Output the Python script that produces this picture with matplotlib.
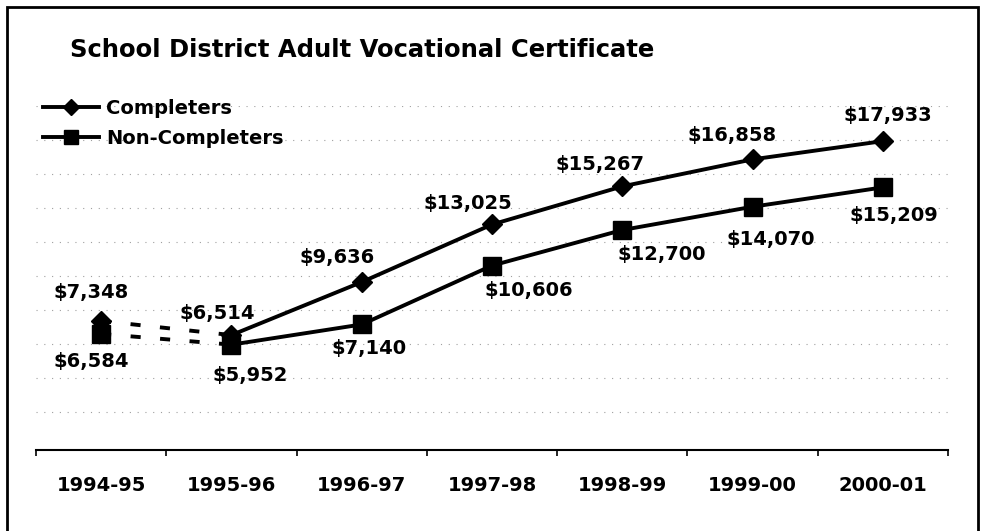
import matplotlib
matplotlib.use("Agg")
import matplotlib.pyplot as plt
from matplotlib.lines import Line2D
from matplotlib.patches import Rectangle

# ---- data ----
years = ["1994-95", "1995-96", "1996-97", "1997-98", "1998-99", "1999-00", "2000-01"]
completers = [7348, 6514, 9636, 13025, 15267, 16858, 17933]
non_completers = [6584, 5952, 7140, 10606, 12700, 14070, 15209]

# label offsets in pixels (dx, dy up) from each marker
comp_offsets = [(-10, 28), (-14, 22), (-25, 25), (-24, 21), (-22, 22), (-21, 24), (5, 26)]
non_offsets = [(-10, -28), (19, -31), (7, -24), (37, -25), (39, -24), (18, -33), (11, -28)]

W, H = 987, 531
plt.rcParams["font.family"] = ["DejaVu Sans"]
plt.rcParams["font.weight"] = "bold"

fig = plt.figure(figsize=(W / 100, H / 100), dpi=100, facecolor="white")
ax = fig.add_axes([36 / W, (H - 450) / H, 912 / W, 344 / H])

x = list(range(len(years)))

for vals, marker, ms in [(completers, "D", 10.5), (non_completers, "s", 13)]:
    # first segment dashed, rest solid
    ax.plot(x[:2], vals[:2], color="black", lw=2.8, linestyle=(0, (2.6, 5)),
            dash_capstyle="butt", zorder=3)
    ax.plot(x[1:], vals[1:], color="black", lw=2.8, zorder=3)
    ax.plot(x, vals, linestyle="", marker=marker, ms=ms, color="black", zorder=4)

for xi, v, (dx, dy) in zip(x, completers, comp_offsets):
    ax.annotate(f"${v:,}", (xi, v), xytext=(dx, dy), textcoords="offset pixels",
                ha="center", va="center", fontsize=14, fontweight="bold")
for xi, v, (dx, dy) in zip(x, non_completers, non_offsets):
    ax.annotate(f"${v:,}", (xi, v), xytext=(dx, dy), textcoords="offset pixels",
                ha="center", va="center", fontsize=14, fontweight="bold")

# faint dotted gridlines (scanned look)
for gy in range(2000, 20001, 2000):
    ax.axhline(gy, color="#a0a0a0", lw=0.8, linestyle=(0, (1, 6)), zorder=1)

ax.set_xlim(-0.5, len(years) - 0.5)
ax.set_ylim(-250, 20000)
ax.set_yticks([])
ax.set_xticks(x)
ax.set_xticklabels(years, fontsize=14, fontweight="bold")
ax.set_xticks([i - 0.5 for i in range(len(years) + 1)], minor=True)
ax.tick_params(axis="x", which="major", length=0, pad=19)
ax.tick_params(axis="x", which="minor", length=4, width=1.2, direction="out")
for s in ("top", "right", "left"):
    ax.spines[s].set_visible(False)
ax.spines["bottom"].set_linewidth(1.5)
ax.patch.set_alpha(0)

fig.text(70 / W, (H - 57) / H, "School District Adult Vocational Certificate",
         fontsize=17.5, fontweight="bold", va="baseline", ha="left")

handles = [
    Line2D([], [], color="black", lw=2.8, marker="D", ms=8.5),
    Line2D([], [], color="black", lw=2.8, marker="s", ms=9.5),
]
leg = fig.legend(handles, ["Completers", "Non-Completers"], loc="upper left",
                 bbox_to_anchor=(43 / W, (H - 99) / H), frameon=False,
                 handlelength=2.9, handletextpad=0.35, labelspacing=0.55, borderpad=0,
                 borderaxespad=0, prop={"weight": "bold", "size": 14})
leg.set_zorder(5)

# chart border (scan frame, bottom edge cut off)
fig.patches.append(Rectangle((7 / W, -0.05), (978 - 7) / W, (H - 7) / H + 0.05,
                             transform=fig.transFigure, fill=False, lw=2, edgecolor="black"))

fig.savefig("out.png", dpi=100, facecolor="white")
